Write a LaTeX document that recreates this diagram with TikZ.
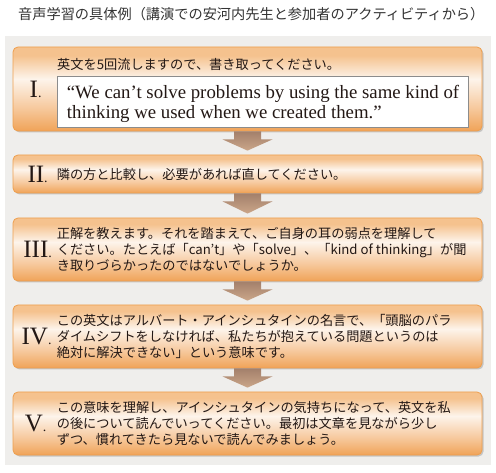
\documentclass[tikz,border=0pt]{standalone}
\usepackage{fontspec}
\newfontfamily\jpfont{Noto Sans CJK JP}
\newfontfamily\romanfont{Liberation Serif}
\usetikzlibrary{calc,shadows,positioning}
\definecolor{bggray}{HTML}{EFEEEC}
\definecolor{boxline}{HTML}{EE9F4E}
\definecolor{boxtop}{HTML}{F5C28E}
\definecolor{boxlight}{HTML}{FDF4EB}
\definecolor{boxmid}{HTML}{F6C79A}
\definecolor{boxbot}{HTML}{F0A358}
\definecolor{arrtop}{HTML}{A3806B}
\definecolor{arrbot}{HTML}{CBA689}
\definecolor{inktext}{HTML}{231815}
\pgfdeclareverticalshading{boxshade}{100bp}{color(0bp)=(boxbot); color(25bp)=(boxbot);
  color(38bp)=(boxmid); color(56bp)=(boxlight); color(70bp)=(boxtop); color(75bp)=(boxtop);
  color(100bp)=(boxtop)}
\tikzset{
  stepbox/.style={draw=boxline, line width=0.8pt, rounded corners=5pt, shading=boxshade,
    minimum width=469pt, inner sep=0pt,
    drop shadow={shadow xshift=1.5pt, shadow yshift=-1.5pt, opacity=0.3, fill=black!60}},
  numeral/.style={font=\romanfont\fontsize{25}{25}\selectfont, text=inktext, inner sep=0pt},
  jptext/.style={font=\jpfont\fontsize{13.2}{16}\selectfont, text=inktext, align=left,
    inner sep=0pt, anchor=west},
  flow/.style={top color=arrtop, bottom color=arrbot, draw=none}
}
\newcommand\pt{{\fontsize{14}{14}\selectfont .}}
\newcommand\flowarrow[2]{%
  \path[flow] ($(#1.south)+(-13.5,0)$) -- ($(#1.south)+(13.5,0)$) -- ($(#1.south)+(13.5,8)$)
    -- ($(#1.south)+(25,8)$) -- ($(#2.north)+(0,-4)$) -- ($(#1.south)+(-25,8)$)
    -- ($(#1.south)+(-13.5,8)$) -- cycle;}
\begin{document}
\begin{tikzpicture}[x=1pt,y=-1pt]
  \useasboundingbox (0,0) rectangle (496,473);
  \node[fill=bggray, minimum width=486pt, minimum height=429pt, inner sep=0pt] (panel) at (248,250.5) {};
  \node[font=\jpfont\fontsize{14.2}{16}\selectfont, text=black!80, inner sep=0pt, anchor=west] (title) at (18,14)
    {音声学習の具体例（講演での安河内先生と参加者のアクティビティから）};

  % steps
  \node[stepbox, minimum height=84pt] (step1) at (247.5,89) {};
  \node[stepbox, minimum height=38pt] (step2) at (247.5,174) {};
  \node[stepbox, minimum height=63pt] (step3) at (247.5,249.5) {};
  \node[stepbox, minimum height=63pt] (step4) at (247.5,336.5) {};
  \node[stepbox, minimum height=63pt] (step5) at (247.5,423.5) {};

  \node[numeral] (num1) at ($(step1.west)+(23,0)$) {I\pt};
  \node[numeral] (num2) at ($(step2.west)+(25,0)$) {II\pt};
  \node[numeral] (num3) at ($(step3.west)+(25,0)$) {III\pt};
  \node[numeral] (num4) at ($(step4.west)+(24,0)$) {IV\pt};
  \node[numeral] (num5) at ($(step5.west)+(23,0)$) {V\pt};

  \node[jptext] (text1) at (57,64) {英文を5回流しますので、書き取ってください。};
  \node[draw=black!45, fill=white, line width=0.6pt, minimum width=411pt, minimum height=51pt]
    (quote) at (262.5,101.5) {};
  \node[anchor=west, align=left, inner sep=0pt, text=inktext, font=\romanfont\fontsize{18.8}{19.5}\selectfont]
    (quotetext) at ($(quote.west)+(10,2.5)$)
    {“We can’t solve problems by using the same kind of\\thinking we used when we created them.”};
  \node[jptext] (text2) at ($(step2.west)+(44,0)$) {隣の方と比較し、必要があれば直してください。};
  \node[jptext] (text3) at ($(step3.west)+(44,0)$)
    {正解を教えます。それを踏まえて、ご自身の耳の弱点を理解して\\
     ください。たとえば「can’t」や「solve」、「kind of thinking」が聞\\
     き取りづらかったのではないでしょうか。};
  \node[jptext] (text4) at ($(step4.west)+(44,0)$)
    {この英文はアルバート・アインシュタインの名言で、「頭脳のパラ\\
     ダイムシフトをしなければ、私たちが抱えている問題というのは\\
     絶対に解決できない」という意味です。};
  \node[jptext] (text5) at ($(step5.west)+(44,0)$)
    {この意味を理解し、アインシュタインの気持ちになって、英文を私\\
     の後について読んでいってください。最初は文章を見ながら少し\\
     ずつ、慣れてきたら見ないで読んでみましょう。};

  \flowarrow{step1}{step2}
  \flowarrow{step2}{step3}
  \flowarrow{step3}{step4}
  \flowarrow{step4}{step5}
\end{tikzpicture}
\end{document}
